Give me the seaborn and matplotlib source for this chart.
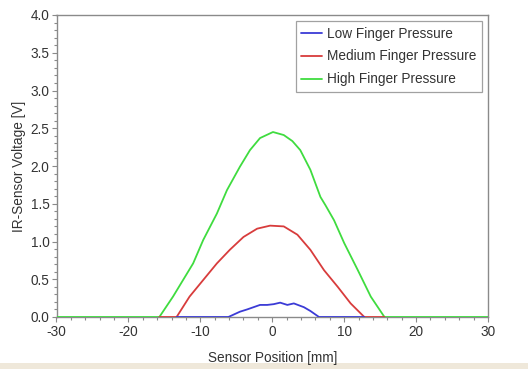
import numpy as np
import pandas as pd
import matplotlib
matplotlib.use("Agg")
import matplotlib.pyplot as plt
import seaborn as sns
from matplotlib.ticker import MultipleLocator, FormatStrFormatter
from matplotlib.patches import Rectangle

# ---- data ----
series_names = ["Low Finger Pressure", "Medium Finger Pressure", "High Finger Pressure"]

low_x = [-13.3, -6.1, -4.5, -3.5, -1.7, -0.7, 0.2, 1.1, 2.1, 3.0, 4.4, 5.3, 6.5, 12.8]
low_y = [0, 0, 0.07, 0.10, 0.16, 0.16, 0.17, 0.19, 0.16, 0.18, 0.13, 0.08, 0, 0]

med_x = [-15.7, -13.3, -11.5, -9.6, -7.7, -5.9, -4.0, -2.1, -0.3, 1.6, 3.5, 5.3, 7.2, 9.1, 10.9, 12.8, 15.6]
med_y = [0, 0, 0.27, 0.49, 0.71, 0.89, 1.06, 1.17, 1.21, 1.20, 1.09, 0.89, 0.62, 0.40, 0.18, 0, 0]

high_x = [-30, -15.7, -13.8, -12.4, -11.0, -9.6, -7.7, -6.3, -4.5, -3.1, -1.7, 0.1, 1.6, 2.8,
          3.9, 5.3, 6.7, 7.4, 8.6, 10.0, 11.9, 13.7, 15.6, 30]
high_y = [0, 0, 0.27, 0.49, 0.71, 1.02, 1.37, 1.68, 1.99, 2.21, 2.37, 2.45, 2.41, 2.33,
          2.21, 1.95, 1.59, 1.48, 1.28, 0.98, 0.62, 0.27, 0, 0]

colors = ["#3b3bd6", "#d83c3c", "#3fdc3f"]

frames = []
for name, xs, ys in zip(series_names, [low_x, med_x, high_x], [low_y, med_y, high_y]):
    frames.append(pd.DataFrame({"pos": xs, "volt": ys, "series": name}))
df = pd.concat(frames, ignore_index=True)

sns.set_style("white")
plt.rcParams["font.family"] = ["Liberation Sans", "DejaVu Sans"]
plt.rcParams["axes.unicode_minus"] = False

FS = 9.8
TXT = "#333333"
GRAY = "#8a8a8a"

fig = plt.figure(figsize=(5.28, 3.69), dpi=100)

# thin beige strip at the bottom edge of the picture (behind everything)
fig.patches.append(Rectangle((0, 0), 1, 6 / 369, transform=fig.transFigure,
                             facecolor="#efe8da", edgecolor="none", zorder=-5))

ax = fig.add_axes([56.5 / 528, 1 - 317 / 369, (488 - 56.5) / 528, (317 - 15) / 369])

zorders = [5, 4, 3]
for name, c, z in zip(series_names, colors, zorders):
    sub = df[df["series"] == name]
    sns.lineplot(data=sub, x="pos", y="volt", sort=False, color=c, lw=1.3,
                 label=name, ax=ax, zorder=z)

ax.set_xlim(-30, 30)
ax.set_ylim(0, 4.0)
ax.xaxis.set_major_locator(MultipleLocator(10))
ax.xaxis.set_minor_locator(MultipleLocator(2))
ax.yaxis.set_major_locator(MultipleLocator(0.5))
ax.yaxis.set_minor_locator(MultipleLocator(0.1))
ax.yaxis.set_major_formatter(FormatStrFormatter("%.1f"))

for s in ax.spines.values():
    s.set_color(GRAY)
    s.set_linewidth(1.0)

ax.tick_params(axis="both", which="both", bottom=True, left=True, top=False, right=False)
ax.tick_params(axis="x", which="major", direction="out", length=3.5, width=0.8,
               color=GRAY, labelsize=FS, labelcolor=TXT, pad=2.5)
ax.tick_params(axis="y", which="major", direction="out", length=3.5, width=0.8,
               color=GRAY, labelsize=FS, labelcolor=TXT, pad=1.5)
ax.tick_params(axis="both", which="minor", direction="out", length=2.5, width=0.8,
               color=GRAY)

ax.set_xlabel("Sensor Position [mm]", fontsize=FS, color=TXT, labelpad=8.5)
ax.set_ylabel("IR-Sensor Voltage [V]", fontsize=FS, color=TXT, labelpad=3)

leg = ax.legend(loc="upper right", bbox_to_anchor=(1.0, 1.0), fontsize=FS,
                frameon=True, fancybox=False, handlelength=1.5, handletextpad=0.4,
                labelspacing=0.65, borderpad=0.4, borderaxespad=0.45)
leg.get_frame().set_edgecolor(GRAY)
leg.get_frame().set_linewidth(0.9)
for t in leg.get_texts():
    t.set_color(TXT)
for h in leg.get_lines():
    h.set_linewidth(1.3)

fig.savefig("out.png", dpi=100)
